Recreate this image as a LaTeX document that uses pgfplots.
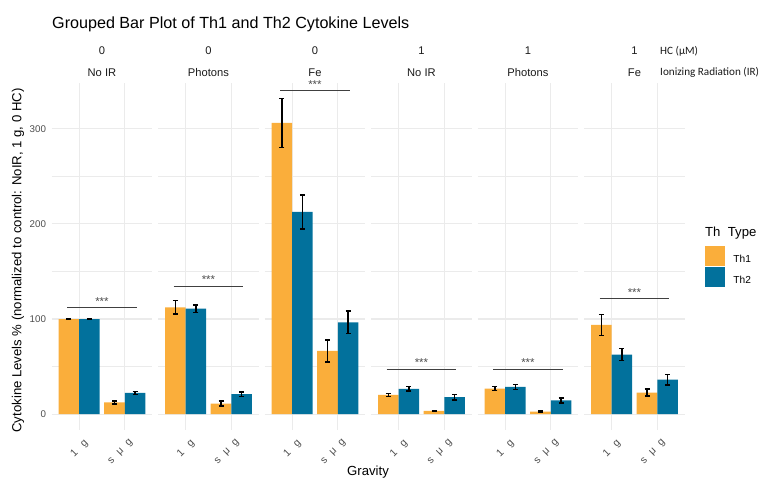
\documentclass[border=0pt]{standalone}
\usepackage{fontspec}
\setmainfont{Liberation Sans}
\newfontfamily\carlito{Carlito}
\usepackage{pgfplots}
\pgfplotsset{compat=1.18}

\definecolor{th1}{HTML}{FAAE3B}
\definecolor{th2}{HTML}{02719C}
\definecolor{gridc}{HTML}{EBEBEB}
\definecolor{ticktxt}{HTML}{4D4D4D}
\definecolor{striptxt}{HTML}{1A1A1A}

\newcommand{\fs}[1]{\fontsize{#1}{#1}\selectfont}

\pgfplotsset{
  panel/.style={
    scale only axis, width=100.5bp, height=347bp, anchor=south west,
    xmin=0.4, xmax=2.6, ymin=-16.6, ymax=348,
    axis line style={draw=none}, major tick length=0pt, minor tick length=0pt,
    xtick={1,2}, xticklabels={1\hspace{8bp}g, s\hspace{6.5bp}μ\hspace{6.5bp}g},
    xticklabel style={xshift=4bp, yshift=-8.5bp, rotate=45, anchor=north east, inner sep=0pt,
      font=\fs{10.5}, text=ticktxt},
    ytick={0,100,200,300}, minor ytick={50,150,250}, yticklabels={},
    yticklabel style={inner sep=0pt, xshift=-5.5bp, font=\fs{9.8}, text=ticktxt},
    grid=both,
    major grid style={gridc, line width=1.1bp},
    minor grid style={gridc, line width=0.55bp},
    clip=false,
  },
  errs/.style={
    /pgfplots/error bars/y dir=both, /pgfplots/error bars/y explicit,
    /pgfplots/error bars/error bar style={line width=1.4bp, black},
    /pgfplots/error bars/error mark options={rotate=90, mark size=2.5bp, line width=1.4bp, black}},
  % bars sit at their dodged positions (category -/+ 0.225), so no bar shift
  bar1/.style={ybar, bar width=0.45, bar shift=0, fill=th1, draw=none, forget plot, errs},
  bar2/.style={ybar, bar width=0.45, bar shift=0, fill=th2, draw=none, forget plot, errs},
}
\tikzset{
  sigline/.style={black!75, line width=0.6bp},
  sigtext/.style={anchor=base, yshift=2.3bp, inner sep=0pt, font=\fs{11.5}, text=black!70},
  strip/.style={inner sep=0pt, font=\fs{11.2}, text=striptxt},
}

% #1 left edge, #2 HC, #3 IR, #4 Th1, #5 Th2, #6 height of the *** bracket, #7 axis options, #8 extra body
\newcommand{\panel}[8]{%
\begin{axis}[panel, at={(#1bp,49bp)}, #7]
  \addplot[bar1] coordinates {#4};
  \addplot[bar2] coordinates {#5};
  \draw[sigline] (axis cs:0.74,#6) -- (axis cs:2.26,#6);
  \node[sigtext] at (axis cs:1.5,#6) {***};
  \node[strip, yshift=32bp] at (rel axis cs:0.5,1) {#2};
  \node[strip, yshift=10.5bp] at (rel axis cs:0.5,1) {#3};
  #8
\end{axis}}

\begin{document}
\begin{tikzpicture}
\path[use as bounding box] (0,0) rectangle (761bp,479bp);

\panel{51.7}{0}{No IR}
  {(0.775,100) +- (0,0.4) (1.775,12.3) +- (0,1.5)}
  {(1.225,100) +- (0,0.4) (2.225,22.4) +- (0,1.7)}
  {112}{yticklabels={0,100,200,300}}{}
\panel{158.2}{0}{Photons}
  {(0.775,112.3) +- (0,7) (1.775,11.2) +- (0,2.5)}
  {(1.225,110.9) +- (0,4) (2.225,21) +- (0,2.3)}
  {134.5}{}{}
\panel{264.7}{0}{Fe}
  {(0.775,306) +- (0,25.7) (1.775,66.5) +- (0,11.5)}
  {(1.225,212.5) +- (0,17.8) (2.225,96.6) +- (0,12)}
  {340}{}{}
\panel{371.2}{1}{No IR}
  {(0.775,20.3) +- (0,1.4) (1.775,3.5) +- (0,0.7)}
  {(1.225,26.6) +- (0,2.4) (2.225,17.9) +- (0,2.8)}
  {47.3}{}{}
\panel{477.7}{1}{Photons}
  {(0.775,27) +- (0,2.3) (1.775,2.8) +- (0,0.5)}
  {(1.225,28.7) +- (0,2.8) (2.225,14.4) +- (0,2.5)}
  {47.3}{}{}
\panel{584.2}{1}{Fe}
  {(0.775,93.8) +- (0,10.8) (1.775,22.8) +- (0,3.8)}
  {(1.225,62.7) +- (0,6.3) (2.225,36.4) +- (0,5.6)}
  {121.5}{legend style={at={(1.202,0.530)}, anchor=north west, draw=none, fill=none,
      inner sep=0pt, outer sep=0pt, row sep=2.2bp, font=\fs{10.2},
      nodes={inner sep=0pt}},
    legend cell align=left}
  {\addlegendimage{legend image code/.code={\fill[th1] (0bp,-5.45bp) rectangle (18.5bp,13.05bp);
       \path (28bp,0bp);}}
   \addlegendentry{Th1}
   \addlegendimage{legend image code/.code={\fill[th2] (0bp,-5.45bp) rectangle (18.5bp,13.05bp);
       \path (28bp,0bp);}}
   \addlegendentry{Th2}}

% titles and facet variable names
\node[anchor=base west, inner sep=0pt, font=\fs{16.2}] at (52bp,450bp)
  {Grouped Bar Plot of Th1 and Th2 Cytokine Levels};
\node[rotate=90, inner sep=0pt, font=\fs{13.2}] at (18bp,218.5bp)
  {Cytokine Levels \% (normalized to control: NoIR, 1 g, 0 HC)};
\node[anchor=base, inner sep=0pt, font=\fs{13.2}] at (368bp,4bp) {Gravity};
\node[anchor=west, inner sep=0pt, font=\carlito\fs{11.2}, text=striptxt] at (660bp,428bp) {HC (μM)};
\node[anchor=west, inner sep=0pt, font=\carlito\fs{11.2}, text=striptxt] at (660bp,407bp) {Ionizing Radiation (IR)};
\node[anchor=base west, inner sep=0pt, font=\fs{13.2}] at (705bp,242bp) {Th\ \ Type};
\end{tikzpicture}
\end{document}
